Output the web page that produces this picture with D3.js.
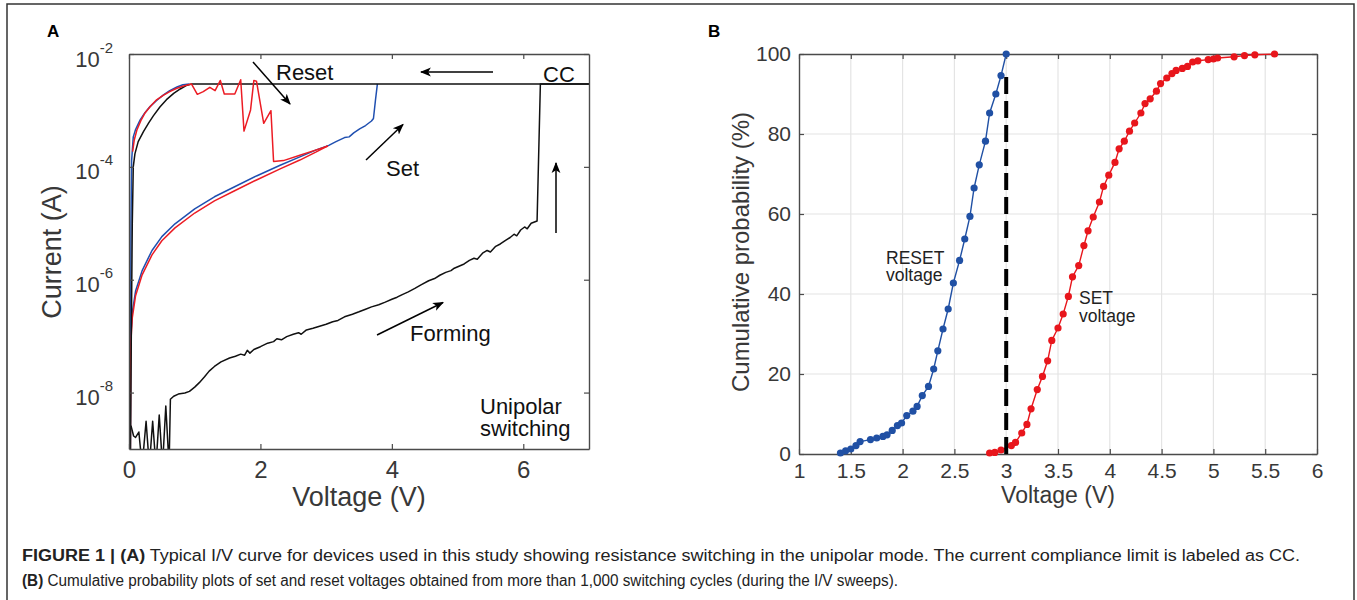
<!DOCTYPE html>
<html>
<head>
<meta charset="utf-8">
<script src="https://d3js.org/d3.v7.min.js"></script>
<style>
  body { margin: 0; background: #fff; }
  svg text { font-family: "Liberation Sans", Arimo, Helvetica, Arial, Roboto, sans-serif; }
</style>
</head>
<body>
<svg id="fig" width="1357" height="600"></svg>
<script>
// ---- panel A: I/V sweeps, [voltage (V), current (A)] ----
var formingCurve = [
  [0.03,2.6e-9],[0.07,1.7e-9],[0.1,1.6e-9],[0.15,2.0e-9],[0.2,5e-10],[0.26,3.1e-9],[0.31,5e-10],
  [0.36,3.1e-9],[0.41,5e-10],[0.46,4.0e-9],[0.51,5e-10],[0.56,5.8e-9],[0.61,5e-10],[0.63,7.6e-9],
  [0.68,8.6e-9],[0.75,9.4e-9],[0.85,9.8e-9],[0.92,1.05e-8],[1.0,1.25e-8],[1.07,1.5e-8],[1.15,1.9e-8],
  [1.22,2.4e-8],[1.3,2.9e-8],[1.4,3.5e-8],[1.53,4.1e-8],[1.62,4.4e-8],[1.7,4.8e-8],[1.76,4.6e-8],
  [1.8,5.6e-8],[1.84,5.0e-8],[1.9,5.8e-8],[2.0,6.5e-8],[2.11,7.5e-8],[2.2,8.0e-8],[2.25,9.0e-8],
  [2.32,8.6e-8],[2.4,9.8e-8],[2.5,1.08e-7],[2.58,1.15e-7],[2.62,1.08e-7],[2.7,1.29e-7],[2.8,1.38e-7],
  [2.9,1.5e-7],[3.0,1.62e-7],[3.1,1.8e-7],[3.18,1.9e-7],[3.28,2.2e-7],[3.4,2.45e-7],[3.5,2.7e-7],
  [3.6,3.0e-7],[3.69,3.3e-7],[3.8,3.6e-7],[3.9,4.0e-7],[4.0,4.5e-7],[4.08,4.9e-7],[4.15,5.4e-7],
  [4.25,6.1e-7],[4.35,7.0e-7],[4.45,8.2e-7],[4.56,9.6e-7],[4.65,1.05e-6],[4.73,1.2e-6],[4.82,1.35e-6],
  [4.9,1.45e-6],[4.95,1.6e-6],[5.03,1.75e-6],[5.1,1.9e-6],[5.18,2.2e-6],[5.25,2.4e-6],[5.3,2.3e-6],
  [5.38,2.95e-6],[5.45,3.3e-6],[5.5,3.1e-6],[5.58,3.9e-6],[5.65,4.3e-6],[5.73,5.0e-6],[5.8,5.6e-6],
  [5.86,6.4e-6],[5.9,6.0e-6],[5.96,7.6e-6],[6.02,8.6e-6],[6.06,8.0e-6],[6.12,1.0e-5],[6.21,1.1e-5],
  [6.26,2.95e-3],[7.0,2.95e-3]
];
var blackLrs = [
  [0.02,5e-10],[0.035,1e-7],[0.05,1e-5],[0.065,1e-4],[0.09,1.7e-4],[0.14,2.8e-4],[0.22,4.2e-4],
  [0.3,6.0e-4],[0.37,8.0e-4],[0.47,1.15e-3],[0.57,1.55e-3],[0.68,2.0e-3],[0.78,2.4e-3],
  [0.87,2.75e-3],[0.95,2.95e-3],[7.0,2.95e-3]
];
var blueLrs = [
  [0.02,5e-10],[0.03,1e-5],[0.04,1.3e-4],[0.065,3.4e-4],[0.1,4.6e-4],[0.17,6.8e-4],[0.24,9.0e-4],
  [0.32,1.17e-3],[0.42,1.5e-3],[0.52,1.87e-3],[0.62,2.25e-3],[0.73,2.6e-3],[0.82,2.85e-3],[0.92,2.95e-3]
];
var blueHrs = [
  [0.01,5e-10],[0.015,1e-8],[0.02,5e-8],[0.03,1.1e-7],[0.05,2.6e-7],[0.1,6.3e-7],[0.2,1.45e-6],
  [0.35,3.3e-6],[0.5,5.8e-6],[0.7,9.8e-6],[1.0,1.8e-5],[1.3,2.95e-5],[1.6,4.4e-5],[1.94,6.9e-5],
  [2.3,1.07e-4],[2.6,1.5e-4],[2.85,2.0e-4],[3.04,2.4e-4],[3.15,2.8e-4],[3.28,3.3e-4],[3.35,3.4e-4],
  [3.42,4.0e-4],[3.51,4.7e-4],[3.6,5.4e-4],[3.69,6.5e-4],[3.72,7.2e-4],[3.75,1.5e-3],[3.78,2.95e-3]
];
var redLrs = [
  [0.055,1.86e-4],[0.08,3.0e-4],[0.12,4.5e-4],[0.18,6.6e-4],[0.24,8.9e-4],[0.33,1.2e-3],[0.42,1.54e-3],
  [0.52,1.85e-3],[0.62,2.15e-3],[0.72,2.45e-3],[0.83,2.7e-3],[0.95,2.95e-3],[1.04,1.93e-3],
  [1.13,2.15e-3],[1.23,2.57e-3],[1.31,2.24e-3],[1.39,3.4e-3],[1.45,1.96e-3],[1.61,1.96e-3],
  [1.70,3.5e-3],[1.75,4.3e-4],[1.85,1.02e-3],[1.90,3.4e-3],[1.94,3.3e-3],[2.05,5.9e-4],[2.16,9.9e-4],
  [2.20,1.24e-4],[2.35,1.29e-4],[2.6,1.6e-4],[2.85,2.0e-4],[3.03,2.34e-4]
];
var redHrs = [
  [0.02,5e-10],[0.025,3e-8],[0.03,8.6e-8],[0.05,2.1e-7],[0.1,5.2e-7],[0.2,1.22e-6],[0.35,2.75e-6],
  [0.5,4.9e-6],[0.7,8.3e-6],[1.0,1.52e-5],[1.3,2.49e-5],[1.6,3.74e-5],[1.94,5.86e-5],[2.3,9.2e-5],
  [2.6,1.32e-4],[2.85,1.84e-4],[3.02,2.34e-4]
];
var xTicksA = [0, 2, 4, 6];
var yTicksA = [1e-8, 1e-6, 1e-4, 1e-2];

// ---- panel B: cumulative probability ----
var resetV = [1.40,1.45,1.50,1.55,1.59,1.69,1.75,1.81,1.85,1.90,1.95,1.99,2.04,2.10,2.14,2.19,2.25,2.30,
  2.34,2.39,2.44,2.49,2.55,2.60,2.65,2.69,2.74,2.80,2.84,2.90,2.95,3.00];
var resetP = [0.25,0.8,1.25,2.1,3.1,3.6,4.0,4.4,4.8,5.9,7.1,7.75,9.6,10.7,11.9,14.6,16.9,21.25,
  25.8,31.25,36.25,42.75,48.4,53.75,59.4,66.5,72.3,78.2,85.25,90,94.6,100];
var setV = [2.84,2.89,2.95,3.05,3.09,3.15,3.20,3.24,3.30,3.35,3.40,3.44,3.50,3.55,3.60,3.64,3.70,3.75,
  3.79,3.84,3.90,3.94,3.99,4.05,4.09,4.14,4.19,4.24,4.30,4.34,4.39,4.45,4.49,4.55,4.60,4.64,4.70,4.75,
  4.80,4.85,4.95,5.00,5.04,5.20,5.30,5.40,5.59];
var setP = [0.25,0.4,1.0,2.1,2.9,5.25,7.4,11.3,16.1,19.4,23.3,28.4,31.5,35,39.4,44.3,47.1,52.1,
  55.8,59.25,63,66.9,69.7,72.9,76.3,78.2,80.7,82.75,85.25,87.6,88.8,90.7,92.6,94,95.1,95.9,96.4,96.9,
  98,98.3,98.6,98.75,99,99.3,99.6,99.8,100];
var xTicksB = [1, 1.5, 2, 2.5, 3, 3.5, 4, 4.5, 5, 5.5, 6];
var yTicksB = [0, 20, 40, 60, 80, 100];

var txt = "#383838", axc = "#4a4a4a";
var blueA = "#1f4fb0", redA = "#ec1c24", blueB = "#2050a4", redB = "#e8161c";

var svg = d3.select("#fig");
var defs = svg.append("defs");
defs.append("marker").attr("id", "arr").attr("viewBox", "0 0 10 10")
  .attr("refX", 9).attr("refY", 5).attr("markerWidth", 11).attr("markerHeight", 11)
  .attr("markerUnits", "userSpaceOnUse").attr("orient", "auto")
  .append("path").attr("d", "M0,1 L10,5 L0,9 L2.5,5 Z").attr("fill", "#000");

// outer frame
svg.append("rect").attr("x", 7).attr("y", 4).attr("width", 1347).attr("height", 610)
  .attr("fill", "none").attr("stroke", "#333").attr("stroke-width", 1.5);

// ================= panel A =================
var xA = d3.scaleLinear().domain([0, 7]).range([129, 589]);
var yA = d3.scaleLog().domain([1e-9, 1e-2]).range([449, 54]);

defs.append("clipPath").attr("id", "clipA").append("rect")
  .attr("x", 129).attr("y", 40).attr("width", 460).attr("height", 409);

var gA = svg.append("g");
var lineA = d3.line().x(function(d) { return xA(d[0]); }).y(function(d) { return yA(d[1]); });
var curves = gA.append("g").attr("clip-path", "url(#clipA)");
[[blueHrs, blueA], [blueLrs, blueA], [redHrs, redA], [blackLrs, "#111"], [formingCurve, "#111"], [redLrs, redA]]
  .forEach(function(c) {
    curves.append("path").datum(c[0]).attr("d", lineA)
      .attr("fill", "none").attr("stroke", c[1]).attr("stroke-width", 1.5).attr("stroke-linejoin", "round");
  });

function styleAxis(g, fs) {
  g.attr("font-family", null);
  g.select(".domain").attr("stroke", axc).attr("stroke-width", 1.4);
  g.selectAll(".tick line").attr("stroke", axc).attr("stroke-width", 1.2);
  g.selectAll(".tick text").attr("fill", txt).style("font-size", fs + "px");
}

gA.append("g").attr("transform", "translate(0,449)")
  .call(d3.axisBottom(xA).tickValues(xTicksA).tickSizeInner(-5).tickSizeOuter(0).tickPadding(12)
    .tickFormat(d3.format("d")))
  .call(styleAxis, 24);
gA.append("g").attr("transform", "translate(0,54)")
  .call(d3.axisTop(xA).tickValues(xTicksA).tickSizeInner(-5).tickSizeOuter(0).tickFormat(""))
  .call(styleAxis, 24);
gA.append("g").attr("transform", "translate(589,0)")
  .call(d3.axisRight(yA).tickValues(yTicksA).tickSizeInner(-5).tickSizeOuter(0).tickFormat(""))
  .call(styleAxis, 22);
gA.append("g").attr("transform", "translate(129,0)")
  .call(d3.axisLeft(yA).tickValues(yTicksA).tickSizeInner(-5).tickSizeOuter(0).tickFormat(""))
  .call(styleAxis, 22);

// power-of-ten labels
yTicksA.forEach(function(v) {
  var t = gA.append("text").attr("x", 113).attr("y", yA(v) + 12.5)
    .attr("text-anchor", "end").attr("fill", txt);
  t.append("tspan").style("font-size", "22px").text("10");
  t.append("tspan").attr("dy", -14).style("font-size", "15px").text(String(Math.round(Math.log10(v))));
});

gA.append("text").attr("x", 359).attr("y", 506).attr("text-anchor", "middle")
  .attr("fill", txt).style("font-size", "27px").text("Voltage (V)");
gA.append("text").attr("transform", "translate(61,252) rotate(-90)").attr("text-anchor", "middle")
  .attr("fill", txt).style("font-size", "27px").text("Current (A)");

var notesA = [["Reset", 276, 80], ["CC", 543, 82], ["Set", 386, 175.5], ["Forming", 410, 341],
  ["Unipolar", 480, 413.5], ["switching", 480, 435.5]];
notesA.forEach(function(n) {
  gA.append("text").attr("x", n[1]).attr("y", n[2]).attr("fill", "#111")
    .style("font-size", "22px").text(n[0]);
});
var arrowsA = [[253, 62, 290, 104], [493, 72, 421, 72], [366, 160, 403, 124.5],
  [556, 233, 556, 163], [377, 335, 443, 302.5]];
arrowsA.forEach(function(a) {
  gA.append("line").attr("x1", a[0]).attr("y1", a[1]).attr("x2", a[2]).attr("y2", a[3])
    .attr("stroke", "#000").attr("stroke-width", 1.5).attr("marker-end", "url(#arr)");
});
svg.append("text").attr("x", 47).attr("y", 37).attr("fill", "#000")
  .style("font-size", "17px").style("font-weight", "bold").text("A");

// ================= panel B =================
var xB = d3.scaleLinear().domain([1, 6]).range([799, 1317]);
var yB = d3.scaleLinear().domain([0, 100]).range([454, 54]);
var gB = svg.append("g");

gB.append("g").selectAll("line").data(xTicksB.slice(1, -1)).enter().append("line")
  .attr("x1", function(d) { return xB(d); }).attr("x2", function(d) { return xB(d); })
  .attr("y1", 54).attr("y2", 454).attr("stroke", "#e4e4e4").attr("stroke-width", 1.2);
gB.append("g").selectAll("line").data(yTicksB.slice(1, -1)).enter().append("line")
  .attr("y1", function(d) { return yB(d); }).attr("y2", function(d) { return yB(d); })
  .attr("x1", 799).attr("x2", 1317).attr("stroke", "#e4e4e4").attr("stroke-width", 1.2);

gB.append("g").attr("transform", "translate(0,454)")
  .call(d3.axisBottom(xB).tickValues(xTicksB).tickSizeInner(-5).tickSizeOuter(0).tickPadding(9)
    .tickFormat(d3.format("~g")))
  .call(styleAxis, 21);
gB.append("g").attr("transform", "translate(0,54)")
  .call(d3.axisTop(xB).tickValues(xTicksB).tickSizeInner(-5).tickSizeOuter(0).tickFormat(""))
  .call(styleAxis, 21);
gB.append("g").attr("transform", "translate(799,0)")
  .call(d3.axisLeft(yB).tickValues(yTicksB).tickSizeInner(-5).tickSizeOuter(0).tickPadding(8))
  .call(styleAxis, 21);
gB.append("g").attr("transform", "translate(1317,0)")
  .call(d3.axisRight(yB).tickValues(yTicksB).tickSizeInner(-5).tickSizeOuter(0).tickFormat(""))
  .call(styleAxis, 21);

var lineB = d3.line().x(function(d) { return xB(d[0]); }).y(function(d) { return yB(d[1]); });
[[resetV, resetP, blueB], [setV, setP, redB]].forEach(function(s) {
  var pts = s[0].map(function(v, i) { return [v, s[1][i]]; });
  gB.append("path").datum(pts).attr("d", lineB).attr("fill", "none")
    .attr("stroke", s[2]).attr("stroke-width", 1.4);
  gB.append("g").selectAll("circle").data(pts).enter().append("circle")
    .attr("cx", function(d) { return xB(d[0]); }).attr("cy", function(d) { return yB(d[1]); })
    .attr("r", 3.6).attr("fill", s[2]);
});

gB.append("line").attr("x1", xB(3)).attr("x2", xB(3)).attr("y1", yB(0)).attr("y2", yB(96))
  .attr("stroke", "#000").attr("stroke-width", 4).attr("stroke-dasharray", "17,7");

gB.append("text").attr("x", 1058).attr("y", 503).attr("text-anchor", "middle")
  .attr("fill", txt).style("font-size", "23px").text("Voltage (V)");
gB.append("text").attr("transform", "translate(749,252) rotate(-90)").attr("text-anchor", "middle")
  .attr("fill", txt).style("font-size", "24px").text("Cumulative probability (%)");

var notesB = [["RESET", 886, 263.5], ["voltage", 886, 281], ["SET", 1079, 304], ["voltage", 1079, 321.5]];
notesB.forEach(function(n) {
  gB.append("text").attr("x", n[1]).attr("y", n[2]).attr("fill", "#222")
    .style("font-size", "17.5px").text(n[0]);
});
svg.append("text").attr("x", 708).attr("y", 37).attr("fill", "#000")
  .style("font-size", "17px").style("font-weight", "bold").text("B");

// ================= caption =================
var capFont = "'Liberation Sans Narrow', 'Liberation Sans', Arimo, Roboto, sans-serif";
var cap1 = svg.append("text").attr("x", 22).attr("y", 561).attr("fill", "#222")
  .attr("textLength", 1278).attr("lengthAdjust", "spacingAndGlyphs")
  .style("font-family", capFont).style("font-size", "16px");
cap1.append("tspan").style("font-weight", "bold").text("FIGURE 1 | (A)");
cap1.append("tspan").text(" Typical I/V curve for devices used in this study showing resistance switching in the unipolar mode. The current compliance limit is labeled as CC.");
var cap2 = svg.append("text").attr("x", 22).attr("y", 586).attr("fill", "#222")
  .attr("textLength", 876).attr("lengthAdjust", "spacingAndGlyphs")
  .style("font-family", capFont).style("font-size", "16px");
cap2.append("tspan").style("font-weight", "bold").text("(B)");
cap2.append("tspan").text(" Cumulative probability plots of set and reset voltages obtained from more than 1,000 switching cycles (during the I/V sweeps).");
</script>
</body>
</html>
